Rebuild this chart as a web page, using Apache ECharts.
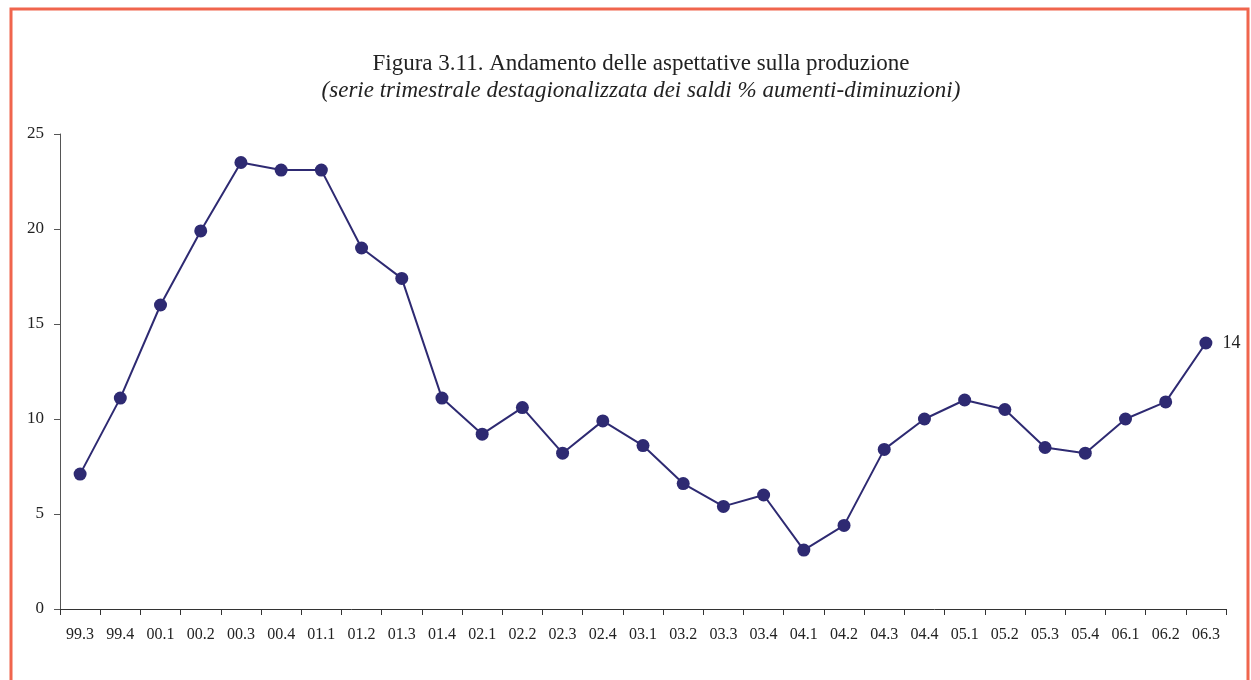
<!DOCTYPE html>
<html>
<head>
<meta charset="utf-8">
<script src="https://cdn.jsdelivr.net/npm/echarts@6/dist/echarts.min.js"></script>
<style>
  html, body { margin: 0; padding: 0; background: #fff; }
  #chart { width: 1251px; height: 680px; }
</style>
</head>
<body>
<div id="chart"></div>
<script>
// Quarters (yy.q)
const quarters = ['99.3','99.4','00.1','00.2','00.3','00.4','01.1','01.2','01.3','01.4',
  '02.1','02.2','02.3','02.4','03.1','03.2','03.3','03.4','04.1','04.2',
  '04.3','04.4','05.1','05.2','05.3','05.4','06.1','06.2','06.3'];
// Seasonally adjusted balance, % increases minus decreases
const saldi = [7.1, 11.1, 16.0, 19.9, 23.5, 23.1, 23.1, 19.0, 17.4, 11.1,
  9.2, 10.6, 8.2, 9.9, 8.6, 6.6, 5.4, 6.0, 3.1, 4.4,
  8.4, 10.0, 11.0, 10.5, 8.5, 8.2, 10.0, 10.9, 14];
const yTicks = [0, 5, 10, 15, 20, 25];
const titleText = 'Figura 3.11. Andamento delle aspettative sulla produzione';
const subtitleText = '(serie trimestrale destagionalizzata dei saldi % aumenti-diminuzioni)';

const serif = '"Liberation Serif", "DejaVu Serif", serif';
const lastIdx = saldi.length - 1;

const chart = echarts.init(document.getElementById('chart'), null, { renderer: 'canvas' });
chart.setOption({
  backgroundColor: '#ffffff',
  animation: false,
  title: {
    text: titleText,
    subtext: subtitleText,
    left: 636,
    textAlign: 'center',
    top: 47,
    itemGap: 4,
    textStyle: { fontFamily: serif, fontSize: 23, fontWeight: 'normal', color: '#222' },
    subtextStyle: { fontFamily: serif, fontSize: 23, fontStyle: 'italic', color: '#222' }
  },
  graphic: [{
    type: 'rect',
    shape: { x: 11, y: 9, width: 1237, height: 720 },
    style: { fill: 'none', stroke: '#f0654d', lineWidth: 3 },
    silent: true
  }],
  grid: { left: 60, right: 25, top: 134, bottom: 71, containLabel: false },
  xAxis: {
    type: 'category',
    data: quarters,
    boundaryGap: true,
    axisLine: { lineStyle: { color: '#333', width: 1 } },
    axisTick: { show: true, alignWithLabel: false, length: 6, lineStyle: { color: '#333' } },
    axisLabel: { fontFamily: serif, fontSize: 16, color: '#222', margin: 18, interval: 0 },
    splitLine: { show: false }
  },
  yAxis: {
    type: 'value',
    min: yTicks[0],
    max: yTicks[yTicks.length - 1],
    interval: 5,
    axisLine: { show: true, lineStyle: { color: '#555', width: 1 } },
    axisTick: { show: true, length: 6, lineStyle: { color: '#555' } },
    axisLabel: { fontFamily: serif, fontSize: 17, color: '#222', margin: 16 },
    splitLine: { show: false }
  },
  series: [{
    type: 'line',
    data: saldi.map((v, i) => i === lastIdx
      ? { value: v, label: { show: true, position: 'right', distance: 10,
          fontFamily: serif, fontSize: 18, color: '#222', formatter: '{c}' } }
      : v),
    symbol: 'circle',
    symbolSize: 13,
    lineStyle: { color: '#2e2a72', width: 2 },
    itemStyle: { color: '#2e2a72' },
    label: { show: false }
  }]
});
</script>
</body>
</html>
